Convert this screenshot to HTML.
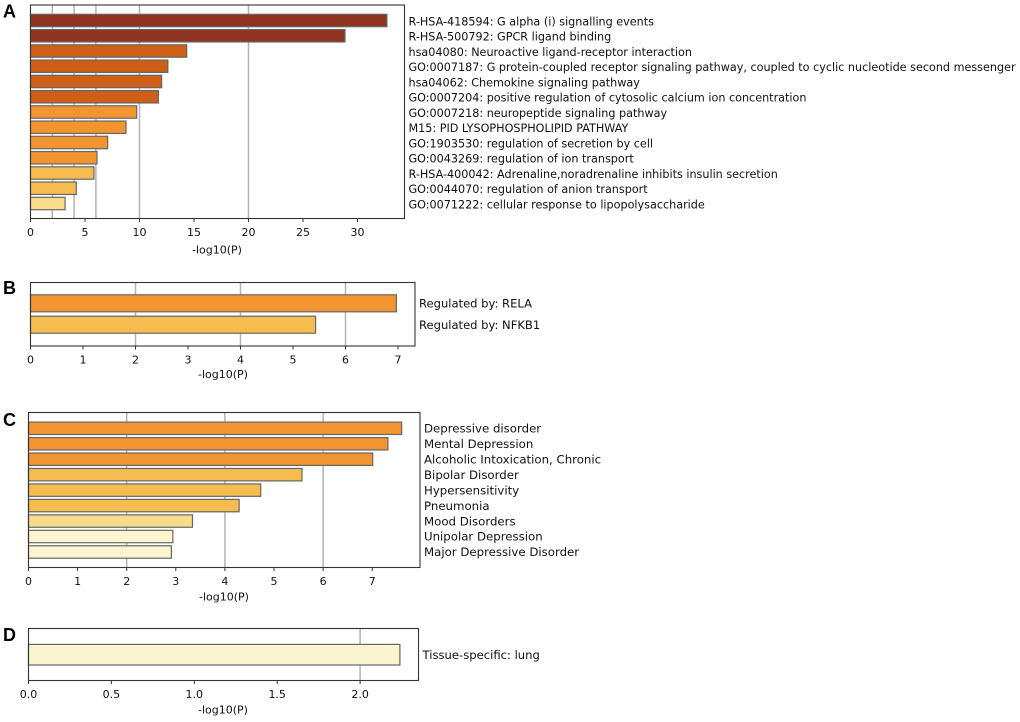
<!DOCTYPE html>
<html>
<head>
<meta charset="utf-8">
<title>Enrichment bar charts</title>
<style>
html,body{margin:0;padding:0;background:#fff;}
svg{display:block;filter:blur(0.3px);}
text{font-family:"DejaVu Sans",sans-serif;fill:#111;}
.panel-letter{font-family:"Liberation Sans",sans-serif;font-weight:bold;fill:#000;}
</style>
</head>
<body>
<svg id="figure" xmlns="http://www.w3.org/2000/svg" width="1020" height="722" viewBox="0 0 1020 722"></svg>
<script>
const aLabels = ["R-HSA-418594: G alpha (i) signalling events","R-HSA-500792: GPCR ligand binding","hsa04080: Neuroactive ligand-receptor interaction","GO:0007187: G protein-coupled receptor signaling pathway, coupled to cyclic nucleotide second messenger","hsa04062: Chemokine signaling pathway","GO:0007204: positive regulation of cytosolic calcium ion concentration","GO:0007218: neuropeptide signaling pathway","M15: PID LYSOPHOSPHOLIPID PATHWAY","GO:1903530: regulation of secretion by cell","GO:0043269: regulation of ion transport","R-HSA-400042: Adrenaline,noradrenaline inhibits insulin secretion","GO:0044070: regulation of anion transport","GO:0071222: cellular response to lipopolysaccharide"];
const aValues = [32.7,28.85,14.33,12.6,12.03,11.73,9.74,8.76,7.08,6.1,5.82,4.2,3.17];
const aTicks = [0,5,10,15,20,25,30];
const aGrid = [2,4,6,10,20];

const bLabels = ["Regulated by: RELA","Regulated by: NFKB1"];
const bValues = [6.97,5.43];
const bTicks = [0,1,2,3,4,5,6,7];
const bGrid = [2,4,6];

const cLabels = ["Depressive disorder","Mental Depression","Alcoholic Intoxication, Chronic","Bipolar Disorder","Hypersensitivity","Pneumonia","Mood Disorders","Unipolar Depression","Major Depressive Disorder"];
const cValues = [7.6,7.32,7.01,5.57,4.73,4.29,3.34,2.94,2.91];
const cTicks = [0,1,2,3,4,5,6,7];
const cGrid = [2,4,6];

const dLabels = ["Tissue-specific: lung"];
const dValues = [2.24];
const dTicks = ["0.0","0.5","1.0","1.5","2.0"];
const dGrid = [2];

const SVGNS = "http://www.w3.org/2000/svg";
const figure = document.getElementById("figure");

function colorFor(v){
  if(v >= 20) return "#8f3420";
  if(v >= 10) return "#cf5e17";
  if(v >= 6) return "#f29430";
  if(v >= 4) return "#f5bd50";
  if(v >= 3) return "#f8dc8c";
  return "#fcf6d0";
}
function make(tag, attrs, parent){
  const el = document.createElementNS(SVGNS, tag);
  for(const k in attrs){ el.setAttribute(k, attrs[k]); }
  parent.appendChild(el);
  return el;
}

function drawPanel(p){
  const g = make("g", {}, figure);
  
  

  const x = function(v){ return p.left + (Number(v) * p.unit); };
  const y = function(i){ return p.firstY + i * p.step; };

  const letter = make("text", {x:p.letterX, y:p.letterY, "font-size":18, "class":"panel-letter"}, g);
  
  
  letter.textContent = p.id.toUpperCase();

  p.grid.forEach(function(v){
    const line = make("line", {x1:x(v), x2:x(v), y1:p.top, y2:p.bottom, stroke:"#b4b4b4", "stroke-width":1.5}, g);
    
    
  });

  p.values.forEach(function(v, i){
    const bar = make("rect", {x:p.left, y:y(i) - p.barH / 2, width:x(v) - p.left, height:p.barH, fill:colorFor(v), stroke:"#666", "stroke-width":1.2}, g);
    
    
    const label = make("text", {x:p.right + 4, y:y(i) + p.labelDy, "font-size":p.labelSize}, g);
    
    
    label.textContent = p.labels[i];
  });

  const frame = make("rect", {x:p.left, y:p.top, width:p.right - p.left, height:p.bottom - p.top, fill:"none", stroke:"#333", "stroke-width":1.1}, g);
  
  

  p.ticks.forEach(function(t){
    const tick = make("line", {x1:x(t), x2:x(t), y1:p.bottom, y2:p.bottom + 3.5, stroke:"#333", "stroke-width":1}, g);
    
    
    const tl = make("text", {x:x(t), y:p.bottom + 17.6, "font-size":11, "text-anchor":"middle"}, g);
    
    
    tl.textContent = t;
  });

  const title = make("text", {x:p.titleX, y:p.bottom + p.titleDy, "font-size":11, "text-anchor":"middle"}, g);
  
  
  title.textContent = "-log10(P)";
}

drawPanel({id:"a", labels:aLabels, values:aValues, ticks:aTicks, grid:aGrid, left:30.5, right:404.5, top:5, bottom:218.5, unit:10.9, firstY:20.5, step:15.25, barH:12.4, labelSize:11.2, labelDy:4.8, letterX:3, letterY:17.5, titleX:217, titleDy:35});
drawPanel({id:"b", labels:bLabels, values:bValues, ticks:bTicks, grid:bGrid, left:30.5, right:415, top:282.5, bottom:346, unit:52.5, firstY:303.3, step:21.4, barH:17, labelSize:11.55, labelDy:4.2, letterX:3, letterY:294, titleX:223, titleDy:32.2});
drawPanel({id:"c", labels:cLabels, values:cValues, ticks:cTicks, grid:cGrid, left:28.5, right:420, top:412.5, bottom:567.5, unit:49.1, firstY:428.3, step:15.46, barH:12.4, labelSize:11.75, labelDy:4.2, letterX:3, letterY:426, titleX:224, titleDy:33.2});
drawPanel({id:"d", labels:dLabels, values:dValues, ticks:dTicks, grid:dGrid, left:28.5, right:418.5, top:628.5, bottom:680.5, unit:165.8, firstY:654.7, step:0, barH:20.6, labelSize:11.6, labelDy:4.2, letterX:3, letterY:641, titleX:223, titleDy:33});
</script>
</body>
</html>
